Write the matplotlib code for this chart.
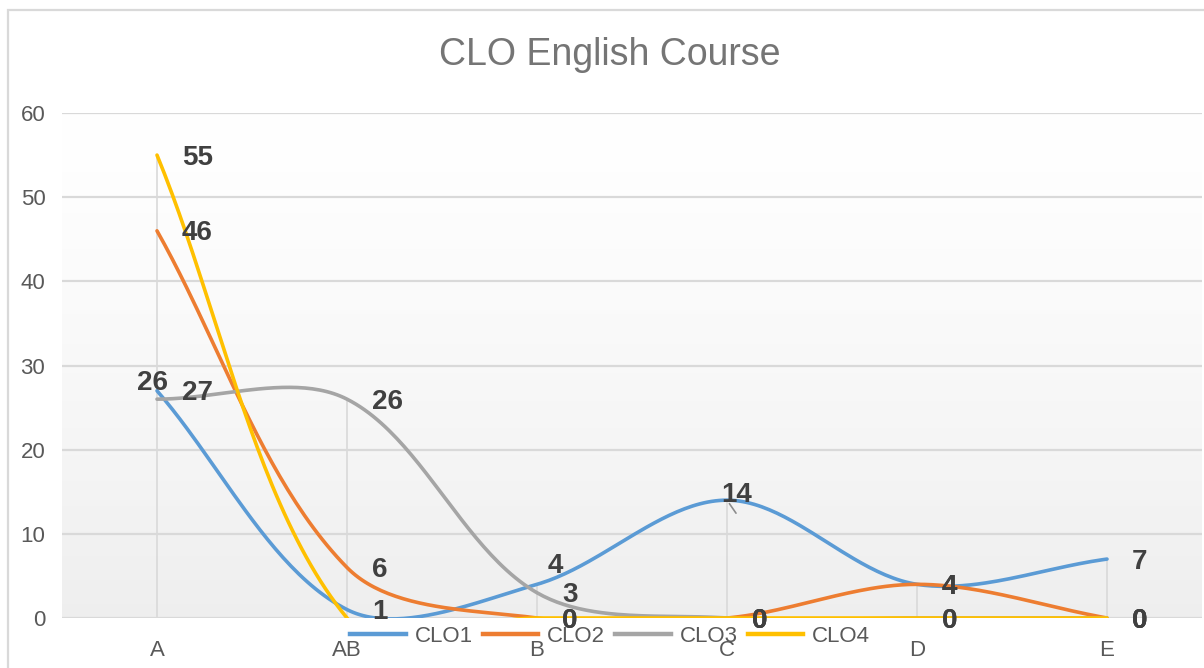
import numpy as np
import matplotlib
matplotlib.use("Agg")
import matplotlib.pyplot as plt
from matplotlib.lines import Line2D
from matplotlib.patches import Rectangle

# ---------------- data ----------------
categories = ["A", "AB", "B", "C", "D", "E"]
series_names = ["CLO1", "CLO2", "CLO3", "CLO4"]
clo1 = [27, 1, 4, 14, 4, 7]
clo2 = [46, 6, 0, 0, 4, 0]
clo3 = [26, 26, 3, 0, 0, 0]
clo4 = [55, 0, 0, 0, 0, 0]
title = "CLO English Course"
y_ticks = [0, 10, 20, 30, 40, 50, 60]

# ---------------- style ----------------
colors = ["#5B9BD5", "#ED7D31", "#A5A5A5", "#FFC000"]
plt.rcParams["font.family"] = ["Liberation Sans", "DejaVu Sans"]
TXT = "#595959"
LBL = "#404040"
GRID = "#d9d9d9"
PX = 0.72  # px -> pt at dpi 100

W, H = 1204, 668
AX_W, AX_H = 1140, 505
fig = plt.figure(figsize=(W / 100, H / 100), dpi=100)
fig.patch.set_facecolor("white")
ax = fig.add_axes([62 / W, 50 / H, AX_W / W, AX_H / H])

n = len(categories)
x = np.arange(n)
ax.set_xlim(-0.5, n - 0.5)
ax.set_ylim(0, 60)
SX = AX_W / n        # px per category
SY = AX_H / 60.0     # px per unit

# gradient background
g = np.linspace(0, 1, 256)  # 0 at bottom, 1 at top
shade = 1 - 0.065 * (1 - g) ** 1.3
img = np.dstack([shade, shade, shade]).reshape(256, 1, 3)
ax.imshow(img, extent=[-0.5, n - 0.5, 0, 60], aspect="auto", origin="lower",
          zorder=0, interpolation="bilinear")

for s in ax.spines.values():
    s.set_visible(False)

for yt in y_ticks:
    ax.axhline(yt, color=GRID, lw=1.6, zorder=1)

data = [clo1, clo2, clo3, clo4]
# drop lines
maxv = np.max(np.array(data), axis=0)
ax.vlines(x, 0, maxv, color=GRID, lw=1.2, zorder=1)


def smooth(xs, ys, k=50, f=1 / 6):
    """Bezier smoothing in pixel space, tangent scaled by segment lengths."""
    P = np.column_stack([np.asarray(xs, float) * SX, np.asarray(ys, float) * SY])
    m = len(P)
    before = np.zeros_like(P)
    after = np.zeros_like(P)
    for i in range(m):
        pp = P[i - 1] if i > 0 else P[i]
        pn = P[i + 1] if i < m - 1 else P[i]
        T = pn - pp
        dp = np.hypot(*(P[i] - pp))
        dn = np.hypot(*(pn - P[i]))
        tot = dp + dn if dp + dn > 0 else 1.0
        before[i] = P[i] - T * f * 2 * dp / tot
        after[i] = P[i] + T * f * 2 * dn / tot
    out = []
    t = np.linspace(0, 1, k)[:, None]
    for i in range(m - 1):
        a, b = P[i], P[i + 1]
        c1, c2 = after[i], before[i + 1]
        seg = (1 - t) ** 3 * a + 3 * (1 - t) ** 2 * t * c1 + 3 * (1 - t) * t ** 2 * c2 + t ** 3 * b
        out.append(seg)
    out = np.vstack(out)
    return out[:, 0] / SX, out[:, 1] / SY


for vals, c in zip(data, colors):
    sx, sy = smooth(x, vals)
    ax.plot(sx, sy, color=c, lw=2.6, zorder=3, solid_capstyle="round")

# data labels: default to the right of the point
overrides = {
    (2, 0): dict(dx=-4, dy=16, ha="center"),
    (0, 2): dict(dx=11, dy=18, ha="left"),
    (0, 3): dict(dx=10, dy=5, ha="center"),
    (3, 1): None,
}
for si, vals in enumerate(data):
    for i, v in enumerate(vals):
        key = (si, i)
        if key in overrides and overrides[key] is None:
            continue
        o = overrides.get(key, dict(dx=25, dy=-2.5, ha="left"))
        ax.annotate(str(v), (x[i], v), xytext=(o["dx"] * PX, o["dy"] * PX),
                    textcoords="offset points", ha=o["ha"], va="center",
                    fontsize=20, fontweight="bold", color=LBL, zorder=5,
                    annotation_clip=False)

# small leader line near the C peak label
ax.annotate("", xy=(x[3], clo1[3]), xytext=(9 * PX, -13 * PX),
            textcoords="offset points",
            arrowprops=dict(arrowstyle="-", color="#8c8c8c", lw=1.2,
                            shrinkA=0, shrinkB=3), zorder=4)

ax.set_xticks(x)
ax.set_xticklabels(categories)
ax.set_yticks(y_ticks)
ax.tick_params(axis="both", length=0, colors=TXT, labelsize=16)
ax.tick_params(axis="x", pad=16)
ax.tick_params(axis="y", pad=12)

handles = [Line2D([0], [0], color=c, lw=3.2) for c in colors]
leg = fig.legend(handles, series_names, ncol=4, loc="center",
                 bbox_to_anchor=(610 / W, 1 - 636 / H), frameon=False,
                 fontsize=16, handlelength=2.5, handletextpad=0.4,
                 columnspacing=0.45)
for t in leg.get_texts():
    t.set_color(TXT)

fig.text(610 / W, 1 - 65 / H, title, ha="center", va="baseline",
         fontsize=27, color="#757575")

fig.patches.append(Rectangle((8 / W, -0.2), 2.0, 1 - 9.5 / H + 0.2,
                             transform=fig.transFigure, fill=False,
                             edgecolor=GRID, lw=1.6, zorder=0))

fig.savefig("out.png", dpi=100)
